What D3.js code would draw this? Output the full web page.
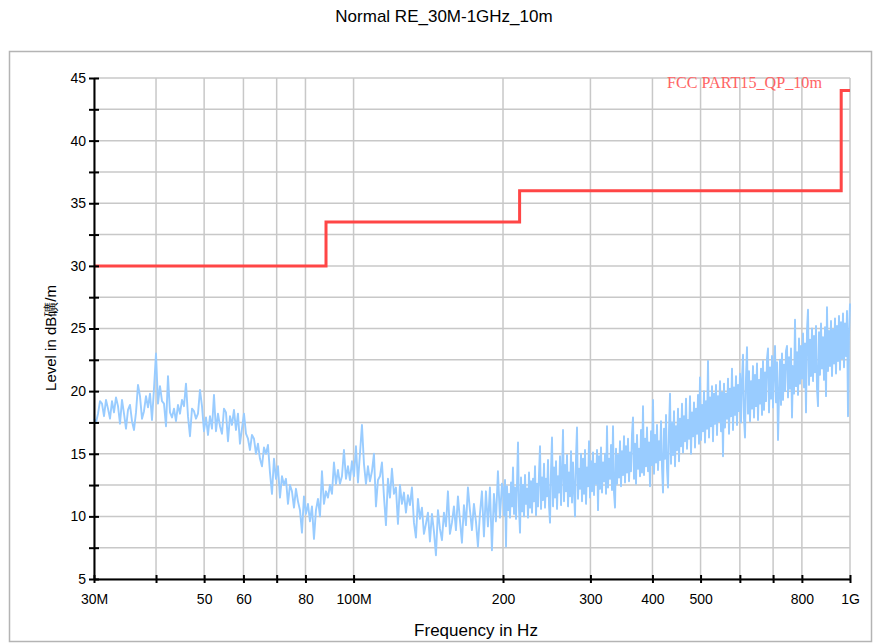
<!DOCTYPE html>
<html><head><meta charset="utf-8">
<script src="https://cdn.jsdelivr.net/npm/d3@7"></script>
<style>body{margin:0;background:#fff} svg{display:block}</style>
</head><body>
<svg id="chart" width="874" height="644"></svg>
<script>
// ---------------- data ----------------
const chartTitle = "Normal RE_30M-1GHz_10m";
const xAxisTitle = "Frequency in Hz";
const yAxisTitle = "Level in dB礦/m";
const limitName = "FCC PART15_QP_10m";

const xTickValues = [30, 40, 50, 60, 70, 80, 100, 200, 300, 400, 500, 600, 700, 800, 1000];
const xLabelValues = [30, 50, 60, 80, 100, 200, 300, 400, 500, 800, 1000];
const xLabelTexts = ["30M", "50", "60", "80", "100M", "200", "300", "400", "500", "800", "1G"];
const yTickValues = [5, 7.5, 10, 12.5, 15, 17.5, 20, 22.5, 25, 27.5, 30, 32.5, 35, 37.5, 40, 42.5, 45];
const yLabelValues = [5, 10, 15, 20, 25, 30, 35, 40, 45];

// limit line (MHz, dB)
const limitFreq = [30, 88, 88, 216, 216, 960, 960, 1000];
const limitLevel = [30, 30, 33.5, 33.5, 36, 36, 44, 44];

// measured trace, sweep A: 30 MHz .. 199 MHz (log spaced points)
const sweepAStartMHz = 30, sweepAStopMHz = 199;
const levelsA = [
  17.8,17.5,18.2,19.2,19.0,18.0,19.3,18.6,17.8,19.2,
  18.3,19.5,18.8,17.4,19.3,18.2,17.0,18.5,18.9,17.6,
  16.9,18.3,20.5,19.6,17.8,18.4,19.6,18.7,19.8,17.7,
  20.2,23.0,19.0,20.4,19.2,19.0,17.2,21.2,18.3,17.9,
  18.6,17.6,18.9,18.2,19.3,18.8,20.6,18.0,16.4,18.6,
  18.4,17.8,18.2,20.1,18.8,16.8,17.9,16.5,18.0,17.0,
  19.7,16.8,18.2,17.2,16.6,18.6,18.3,16.0,18.0,17.3,
  18.5,16.9,18.2,15.8,17.0,18.2,16.6,16.2,15.3,16.5,
  16.2,15.0,15.8,14.6,14.0,15.5,15.0,15.7,13.5,11.8,
  14.6,13.0,14.0,11.5,13.2,12.5,13.0,11.0,12.5,12.0,
  10.7,12.2,11.2,10.5,8.7,11.6,10.2,11.0,9.6,10.8,
  8.2,10.5,11.4,10.0,13.6,11.0,12.0,11.5,12.5,11.8,
  14.3,12.6,13.7,12.6,13.2,15.3,13.0,14.0,12.9,14.4,
  13.2,15.6,12.7,15.0,17.3,14.2,12.6,14.0,12.8,13.6,
  15.0,10.8,12.9,13.2,14.3,11.6,9.3,13.0,11.5,13.8,
  11.8,12.3,9.4,12.5,11.0,11.9,10.3,11.7,10.9,12.3,
  9.5,8.3,11.4,9.8,10.7,8.6,9.4,10.3,8.0,10.2,
  8.8,6.9,10.5,9.0,8.1,10.3,9.2,12.0,8.6,9.5,
  10.8,8.9,11.6,9.7,7.9,10.9,9.3,12.3,10.5,8.9,
  11.0,9.6,7.6,10.2,12.0,8.4,12.0,9.2,12.3,7.3,
  11.8,9.6,13.6,9.9,12.6
];

// measured trace, sweep B: 200 MHz .. 1 GHz (log spaced points, finer)
const sweepBStartMHz = 200, sweepBStopMHz = 1000;
const levelsB = [
  12.2,10.1,12.9,7.6,12.4,10.5,11.8,9.9,12.7,10.8,
  13.9,10.2,12.3,9.8,12.6,15.9,10.6,8.7,13.1,10.4,
  12.5,10.0,13.3,11.0,12.2,9.9,13.5,10.7,12.8,10.3,
  13.0,11.2,14.0,10.1,12.6,10.8,13.4,15.6,10.6,13.1,
  11.3,14.2,10.7,13.0,11.6,14.5,10.9,9.5,13.7,16.3,
  10.8,13.9,11.5,14.4,10.6,13.2,11.9,14.8,10.9,13.6,
  16.9,11.2,14.1,12.0,14.9,10.8,13.5,11.6,15.2,11.1,
  14.3,12.1,10.0,14.7,17.1,11.4,13.8,12.2,15.0,11.2,
  14.6,11.8,15.3,11.0,13.9,12.4,16.0,11.5,14.4,12.0,
  15.1,11.7,14.2,12.6,15.3,10.5,14.8,12.2,15.5,11.9,
  14.3,12.8,15.0,11.8,17.2,12.3,14.6,13.0,15.7,12.1,
  17.2,11.9,10.7,15.4,12.6,14.9,13.1,16.0,12.4,15.2,
  13.3,16.4,12.7,15.6,13.5,16.2,12.8,15.1,13.6,16.6,
  17.9,13.0,15.8,12.6,16.5,13.8,15.4,13.2,16.9,13.5,
  18.8,13.3,16.2,14.0,17.1,13.6,15.9,12.4,16.8,14.1,
  19.3,13.4,16.5,14.3,17.3,13.7,16.0,14.5,17.6,13.9,
  11.9,17.0,14.6,18.1,13.8,12.3,16.9,19.8,14.2,17.5,
  14.9,18.4,14.0,17.2,15.3,18.6,14.4,17.8,15.6,19.0,
  15.1,18.0,16.0,19.4,15.4,17.7,16.2,19.6,15.0,18.3,
  16.4,19.1,15.5,18.6,16.6,19.7,15.8,21.1,16.1,18.9,
  16.8,20.0,15.9,19.2,17.0,22.4,16.3,19.5,17.2,20.4,
  16.0,19.8,17.4,20.5,16.5,19.6,17.6,20.8,16.8,19.9,
  14.8,20.6,17.1,19.8,17.8,21.0,16.6,20.2,18.0,21.8,
  16.9,20.3,18.1,21.2,17.3,20.5,18.4,21.4,17.5,20.9,
  22.9,17.8,16.3,21.1,23.5,18.2,21.6,17.6,20.8,18.6,
  22.0,17.9,21.3,18.8,22.2,17.7,20.9,19.0,21.8,18.1,
  22.4,18.5,21.5,19.2,22.6,23.4,18.3,21.9,19.4,22.8,
  18.7,21.7,23.6,19.1,22.3,16.1,19.6,22.5,18.9,23.0,
  19.3,22.1,20.0,23.2,23.6,19.5,22.7,20.2,23.4,17.9,
  22.0,19.8,25.7,20.4,23.1,19.7,24.2,20.6,23.6,21.0,
  24.6,20.3,23.8,18.3,24.9,26.5,20.5,24.1,21.2,25.0,
  20.8,24.4,21.5,25.2,20.2,18.8,24.7,21.3,25.4,21.8,
  24.3,20.9,25.1,19.6,26.7,21.6,24.8,22.0,25.6,21.2,
  24.9,22.2,25.8,21.4,25.2,22.4,26.0,21.7,25.5,22.6,
  26.2,21.9,25.4,22.8,26.4,18.0,24.6,27.0
];

// ---------------- drawing ----------------
const svg = d3.select("#chart");
const plot = {left: 94, right: 850, top: 78, bottom: 579};

const x = d3.scaleLog().domain([30, 1000]).range([plot.left, plot.right]);
const y = d3.scaleLinear().domain([5, 45]).range([plot.bottom, plot.top]);

const font = "'Liberation Sans', Arial, sans-serif";

// outer frame
svg.append("rect").attr("x", 9.5).attr("y", 51.5).attr("width", 862).attr("height", 590)
  .attr("fill", "none").attr("stroke", "#b4b4b4").attr("stroke-width", 1.5);

// title
svg.append("text").attr("x", 444).attr("y", 22).attr("text-anchor", "middle")
  .attr("font-family", font).attr("font-size", 17).attr("fill", "#000").text(chartTitle);

// grid
const grid = svg.append("g").attr("class", "grid");
grid.selectAll("line.v").data(xTickValues).join("line").attr("class", "v")
  .attr("x1", d => x(d)).attr("x2", d => x(d)).attr("y1", plot.top).attr("y2", plot.bottom)
  .attr("stroke", "#c8c8c8").attr("stroke-width", 1.5);
grid.selectAll("line.h").data(yTickValues).join("line").attr("class", "h")
  .attr("x1", plot.left).attr("x2", plot.right).attr("y1", d => y(d)).attr("y2", d => y(d))
  .attr("stroke", "#c8c8c8").attr("stroke-width", 1.5);

// trace
function sweep(levels, f0, f1) {
  const n = levels.length;
  return levels.map((v, i) => ({f: f0 * Math.pow(f1 / f0, i / (n - 1)), v}));
}
const trace = sweep(levelsA, sweepAStartMHz, sweepAStopMHz)
  .concat(sweep(levelsB, sweepBStartMHz, sweepBStopMHz));
svg.append("path").datum(trace)
  .attr("fill", "none").attr("stroke", "#99ccff").attr("stroke-width", 1.9)
  .attr("stroke-linejoin", "round")
  .attr("d", d3.line().x(d => x(d.f)).y(d => y(d.v)));

// limit line
const limit = limitFreq.map((f, i) => ({f, v: limitLevel[i]}));
svg.append("path").datum(limit)
  .attr("fill", "none").attr("stroke", "#ff4646").attr("stroke-width", 3)
  .attr("d", d3.line().x(d => x(d.f)).y(d => y(d.v)));

svg.append("text").attr("x", 667).attr("y", 88)
  .attr("font-family", "'Liberation Serif', 'DejaVu Serif', serif").attr("font-size", 17)
  .attr("textLength", 155).attr("lengthAdjust", "spacingAndGlyphs")
  .attr("fill", "#ff6464").text(limitName);

// axes
const labelMap = new Map(xLabelValues.map((v, i) => [v, xLabelTexts[i]]));
const gx = svg.append("g").attr("transform", `translate(0,${plot.bottom})`)
  .call(d3.axisBottom(x).tickValues(xTickValues)
    .tickFormat(d => labelMap.get(d) || "").tickSizeInner(4).tickSizeOuter(0).tickPadding(11));
const gx2 = svg.append("g").attr("transform", `translate(0,${plot.bottom})`)
  .call(d3.axisTop(x).tickValues(xTickValues).tickFormat("").tickSizeInner(4).tickSizeOuter(0));
gx2.select(".domain").remove();

const gy = svg.append("g").attr("transform", `translate(${plot.left},0)`)
  .call(d3.axisLeft(y).tickValues(yTickValues)
    .tickFormat(d => yLabelValues.includes(d) ? d : "").tickSizeInner(5).tickSizeOuter(0).tickPadding(3));
const gy2 = svg.append("g").attr("transform", `translate(${plot.left},0)`)
  .call(d3.axisRight(y).tickValues(yTickValues).tickFormat("").tickSizeInner(5).tickSizeOuter(0));
gy2.select(".domain").remove();

[gx, gx2, gy, gy2].forEach(g => {
  g.selectAll(".domain").attr("stroke", "#000").attr("stroke-width", 2);
  g.selectAll(".tick line").attr("stroke", "#000").attr("stroke-width", 2);
  g.selectAll("text").attr("font-family", font).attr("font-size", 14).attr("fill", "#000");
});

// axis titles
svg.append("text").attr("x", 476).attr("y", 636).attr("text-anchor", "middle")
  .attr("font-family", font).attr("font-size", 17).attr("fill", "#000").text(xAxisTitle);
svg.append("text").attr("transform", "translate(56,338) rotate(-90)").attr("text-anchor", "middle")
  .attr("font-family", font).attr("font-size", 15).attr("fill", "#000").text(yAxisTitle);
</script>
</body></html>
